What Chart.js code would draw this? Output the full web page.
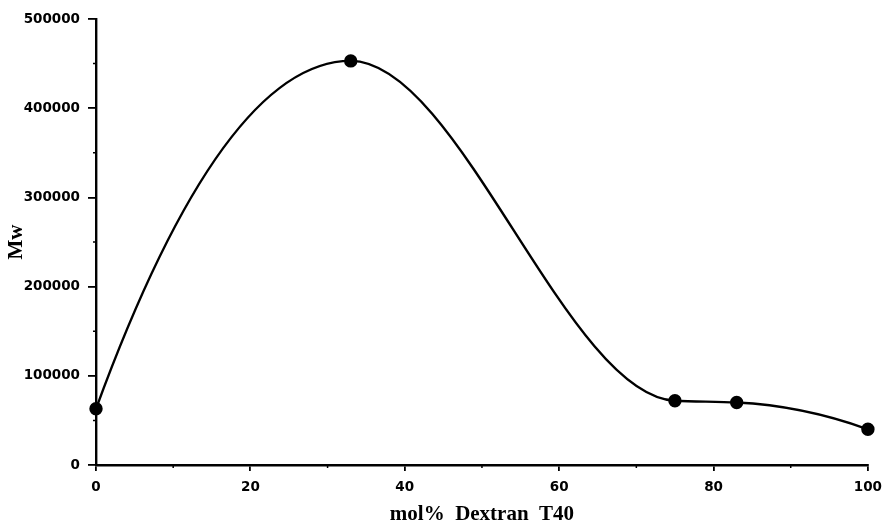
<!DOCTYPE html>
<html>
<head>
<meta charset="utf-8">
<script src="https://cdn.jsdelivr.net/npm/chart.js@4"></script>
<style>
  html, body { margin: 0; padding: 0; background: #fff; }
  #wrap { width: 890px; height: 531px; }
</style>
</head>
<body>
<div id="wrap"><canvas id="myChart" width="890" height="531"></canvas></div>
<script>
// data
const dextranPct = [0, 33, 75, 83, 100];
const mwValues = [63000, 453000, 72000, 70000, 40000];
const xMinorTicks = [10, 30, 50, 70, 90];
const yMinorTicks = [50000, 150000, 250000, 350000, 450000];

const points = dextranPct.map((x, i) => ({ x: x, y: mwValues[i] }));

// tangents for a shape preserving spline (pchip style, parabolic ends)
function splineSlopes(xs, ys) {
  const n = xs.length;
  const h = [], d = [];
  for (let i = 0; i < n - 1; i++) {
    h.push(xs[i + 1] - xs[i]);
    d.push((ys[i + 1] - ys[i]) / h[i]);
  }
  const m = new Array(n).fill(0);
  for (let k = 1; k < n - 1; k++) {
    if (d[k - 1] * d[k] > 0) {
      const w1 = 2 * h[k] + h[k - 1];
      const w2 = h[k] + 2 * h[k - 1];
      m[k] = (w1 + w2) / (w1 / d[k - 1] + w2 / d[k]);
    }
  }
  m[0] = 2 * d[0] - m[1];
  m[n - 1] = 2 * d[n - 2] - m[n - 2];
  return m;
}

// let chart.js draw the line, but with these tangents
const splineTangents = {
  id: 'splineTangents',
  beforeDatasetDraw(chart, args) {
    const line = args.meta.dataset;
    const pts = args.meta.data;
    const xs = chart.scales.x, ys = chart.scales.y;
    line.updateControlPoints(chart.chartArea, 'x');
    const m = splineSlopes(dextranPct, mwValues);
    const n = pts.length;
    for (let i = 0; i < n; i++) {
      if (i > 0) {
        const h = (dextranPct[i] - dextranPct[i - 1]) / 3;
        pts[i].cp1x = xs.getPixelForValue(dextranPct[i] - h);
        pts[i].cp1y = ys.getPixelForValue(mwValues[i] - m[i] * h);
      }
      if (i < n - 1) {
        const h = (dextranPct[i + 1] - dextranPct[i]) / 3;
        pts[i].cp2x = xs.getPixelForValue(dextranPct[i] + h);
        pts[i].cp2y = ys.getPixelForValue(mwValues[i] + m[i] * h);
      }
    }
    line._path = undefined;
  }
};

// short minor tick marks, placed with the chart's own scales
const minorTicks = {
  id: 'minorTicks',
  afterDraw(chart) {
    const ctx = chart.ctx;
    const xs = chart.scales.x, ys = chart.scales.y;
    const area = chart.chartArea;
    ctx.save();
    ctx.strokeStyle = '#000';
    ctx.lineWidth = 1.5;
    ctx.beginPath();
    xMinorTicks.forEach(v => {
      const px = xs.getPixelForValue(v);
      ctx.moveTo(px, area.bottom);
      ctx.lineTo(px, area.bottom + 3);
    });
    yMinorTicks.forEach(v => {
      const py = ys.getPixelForValue(v);
      ctx.moveTo(area.left, py);
      ctx.lineTo(area.left - 3, py);
    });
    ctx.stroke();
    ctx.restore();
  }
};

const tickFont = { family: 'DejaVu Sans', size: 13.5, weight: 'bold' };

new Chart(document.getElementById('myChart').getContext('2d'), {
  type: 'line',
  data: {
    datasets: [{
      data: points,
      borderColor: '#000',
      backgroundColor: '#000',
      borderWidth: 2.4,
      pointRadius: 5.5,
      pointBackgroundColor: '#000',
      cubicInterpolationMode: 'monotone',
      clip: false,
      fill: false
    }]
  },
  options: {
    responsive: false,
    animation: false,
    layout: { padding: { top: 19, right: 19, bottom: 0, left: 0 } },
    plugins: { legend: { display: false }, tooltip: { enabled: false } },
    scales: {
      x: {
        type: 'linear',
        min: 0,
        max: 100,
        ticks: { stepSize: 20, color: '#000', font: tickFont, padding: 8, maxRotation: 0,
                 callback: v => String(v) },
        grid: { drawOnChartArea: false, drawTicks: true, tickLength: 6, color: '#000', lineWidth: 1.8 },
        border: { color: '#000', width: 2.4 },
        title: {
          display: true,
          text: 'mol%  Dextran  T40',
          color: '#000',
          font: { family: 'Liberation Serif', size: 21, weight: 'bold' },
          padding: { top: 4, bottom: 4 }
        },
        afterFit(scale) { scale.height = 66; }
      },
      y: {
        min: 0,
        max: 500000,
        ticks: { stepSize: 100000, color: '#000', font: tickFont, padding: 8,
                 callback: v => String(v) },
        grid: { drawOnChartArea: false, drawTicks: true, tickLength: 8, color: '#000', lineWidth: 1.8 },
        border: { color: '#000', width: 2.4 },
        title: {
          display: true,
          text: 'Mw',
          color: '#000',
          font: { family: 'Liberation Serif', size: 21, weight: 'bold' },
          padding: { top: 4, bottom: 4 }
        },
        afterFit(scale) { scale.width = 96; }
      }
    }
  },
  plugins: [splineTangents, minorTicks]
});
</script>
</body>
</html>
